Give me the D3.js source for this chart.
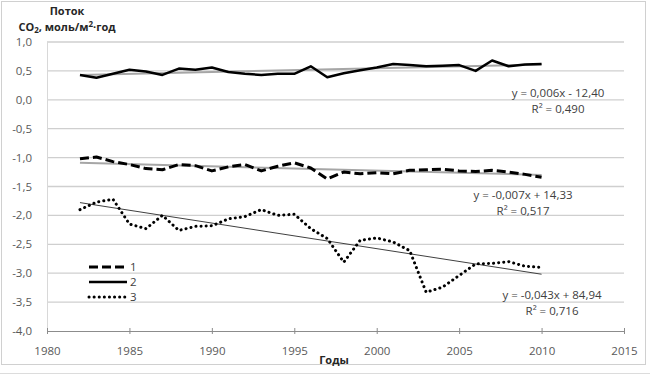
<!DOCTYPE html>
<html>
<head>
<meta charset="utf-8">
<script src="https://cdn.jsdelivr.net/npm/d3@7"></script>
<style>
  body { margin: 0; background: #fff; }
  svg text { font-family: "Open Sans", "Noto Sans", sans-serif; }
</style>
</head>
<body>
<div id="chart"></div>
<script>
// data
const years = [1982, 1983, 1984, 1985, 1986, 1987, 1988, 1989, 1990, 1991, 1992, 1993, 1994, 1995, 1996,
               1997, 1998, 1999, 2000, 2001, 2002, 2003, 2004, 2005, 2006, 2007, 2008, 2009, 2010];
const series1 = [-1.02, -0.99, -1.07, -1.12, -1.19, -1.21, -1.12, -1.14, -1.23, -1.16, -1.12, -1.23, -1.15, -1.09, -1.18,
                 -1.37, -1.25, -1.28, -1.26, -1.28, -1.22, -1.21, -1.20, -1.23, -1.24, -1.22, -1.25, -1.29, -1.34];
const series2 = [0.43, 0.38, 0.45, 0.52, 0.49, 0.43, 0.54, 0.52, 0.56, 0.48, 0.45, 0.43, 0.45, 0.45, 0.58,
                 0.39, 0.46, 0.51, 0.56, 0.62, 0.60, 0.58, 0.59, 0.60, 0.50, 0.68, 0.58, 0.61, 0.62];
const series3 = [-1.90, -1.77, -1.72, -2.15, -2.23, -2.00, -2.26, -2.19, -2.18, -2.06, -2.02, -1.90, -2.00, -1.98, -2.23,
                 -2.40, -2.81, -2.43, -2.39, -2.46, -2.61, -3.33, -3.24, -3.04, -2.84, -2.83, -2.80, -2.88, -2.90];
const legendLabels = ["1", "2", "3"];
const trendLabels = [
  ["y = -0,007x + 14,33", "R\u00b2 = 0,517"],
  ["y = 0,006x - 12,40", "R\u00b2 = 0,490"],
  ["y = -0,043x + 84,94", "R\u00b2 = 0,716"]
];
const xTicks = [1980, 1985, 1990, 1995, 2000, 2005, 2010, 2015];
const yTicks = [1, 0.5, 0, -0.5, -1, -1.5, -2, -2.5, -3, -3.5, -4];

const W = 650, H = 376;
const margin = { top: 42, right: 26, bottom: 45, left: 47 };
const width = W - margin.left - margin.right;
const height = H - margin.top - margin.bottom;

const svg = d3.select("#chart").append("svg")
    .attr("width", W).attr("height", H);

// outer frame
svg.append("rect")
    .attr("x", 1.5).attr("y", 1.5).attr("width", 644).attr("height", 363)
    .attr("fill", "none").attr("stroke", "#d0d0d0");
svg.append("line").attr("x1", 0).attr("x2", W).attr("y1", 373.5).attr("y2", 373.5)
    .attr("stroke", "#dcdcdc");

const g = svg.append("g").attr("transform", `translate(${margin.left},${margin.top})`);

const x = d3.scaleLinear().domain([1980, 2015]).range([0, width]);
const y = d3.scaleLinear().domain([-4, 1]).range([height, 0]);

// grid
g.selectAll(".grid").data(yTicks.filter(d => d !== -4)).join("line")
    .attr("class", "grid")
    .attr("x1", 0).attr("x2", width)
    .attr("y1", d => y(d)).attr("y2", d => y(d))
    .attr("stroke", "#cfcfcf").attr("stroke-width", 1.3);

g.append("line").attr("x1", 0.5).attr("x2", 0.5).attr("y1", 0).attr("y2", height)
    .attr("stroke", "#d8d8d8");

// y labels
g.selectAll(".ylab").data(yTicks).join("text")
    .attr("class", "ylab")
    .attr("x", -15).attr("y", d => y(d)).attr("dy", "0.35em")
    .attr("text-anchor", "end")
    .attr("font-size", 11.5).attr("fill", "#595959")
    .text(d => d3.format(".1f")(d).replace("−", "-").replace(".", ","));

// x axis
const xAxis = g.append("g").attr("transform", `translate(0,${height})`)
    .call(d3.axisBottom(x).tickValues(xTicks).tickFormat(d3.format("d")).tickSizeInner(3).tickSizeOuter(0));
xAxis.select(".domain").attr("stroke", "#8c8c8c");
xAxis.selectAll(".tick line").attr("stroke", "#8c8c8c").attr("y1", -3);
xAxis.selectAll(".tick text").attr("font-size", 11.5).attr("fill", "#595959").attr("dy", "1.55em")
    .attr("font-family", "'Open Sans', sans-serif");

// trend lines
function fit(xs, ys) {
  const mx = d3.mean(xs), my = d3.mean(ys);
  const b = d3.sum(xs, (v, i) => (v - mx) * (ys[i] - my)) / d3.sum(xs, v => (v - mx) ** 2);
  return { b, a: my - b * mx };
}
const trendStyle = [
  { stroke: "#a6a6a6", w: 2 },
  { stroke: "#a6a6a6", w: 2 },
  { stroke: "#404040", w: 1 }
];
const allSeries = [series1, series2, series3];
allSeries.forEach((s, i) => {
  const f = fit(years, s);
  const ends = [years[0], years[years.length - 1]];
  g.append("line")
      .attr("x1", x(ends[0])).attr("y1", y(f.a + f.b * ends[0]))
      .attr("x2", x(ends[1])).attr("y2", y(f.a + f.b * ends[1]))
      .attr("stroke", trendStyle[i].stroke).attr("stroke-width", trendStyle[i].w);
});

// series lines
const lineStyle = [
  { dash: "9,4", w: 3, cap: "butt" },
  { dash: null, w: 2.5, cap: "butt" },
  { dash: "0.1,5", w: 3, cap: "round" }
];
const line = d3.line().x((d, i) => x(years[i])).y(d => y(d));
allSeries.forEach((s, i) => {
  g.append("path").datum(s)
      .attr("d", line)
      .attr("fill", "none").attr("stroke", "#000")
      .attr("stroke-width", lineStyle[i].w)
      .attr("stroke-dasharray", lineStyle[i].dash)
      .attr("stroke-linecap", lineStyle[i].cap)
      .attr("stroke-linejoin", "round");
});

// trend equations
const trendPos = [[523, 195], [558, 93], [552, 295]];
trendLabels.forEach((lbl, i) => {
  const t = svg.append("text")
      .attr("text-anchor", "middle").attr("font-size", 11.5).attr("fill", "#404040");
  lbl.forEach((s, j) => {
    t.append("tspan").attr("x", trendPos[i][0]).attr("y", trendPos[i][1] + j * 15.5 + 4).text(s);
  });
});

// legend
const leg = svg.append("g").attr("transform", "translate(89,267)");
legendLabels.forEach((l, i) => {
  const row = leg.append("g").attr("transform", `translate(0,${i * 15})`);
  row.append("line").attr("x1", 0).attr("x2", 38).attr("y1", 0).attr("y2", 0)
      .attr("stroke", "#000").attr("stroke-width", lineStyle[i].w)
      .attr("stroke-dasharray", lineStyle[i].dash)
      .attr("stroke-linecap", lineStyle[i].cap);
  row.append("text").attr("x", 41).attr("y", 0).attr("dy", "0.38em")
      .attr("font-size", 11.5).attr("fill", "#404040").text(l);
});

// axis titles
const yt = svg.append("text").attr("text-anchor", "middle").attr("font-size", 11)
    .attr("font-weight", "bold").attr("fill", "#262626");
yt.append("tspan").attr("x", 67).attr("y", 15).text("Поток");
const yt2 = yt.append("tspan").attr("x", 67).attr("y", 31);
yt2.append("tspan").text("CO");
yt2.append("tspan").attr("font-size", 8).attr("dy", 2).text("2");
yt2.append("tspan").attr("dy", -2).text(", моль/м");
yt2.append("tspan").attr("font-size", 8).attr("dy", -4).text("2");
yt2.append("tspan").attr("dy", 4).text("·год");

svg.append("text").attr("x", 334).attr("y", 364).attr("text-anchor", "middle")
    .attr("font-size", 11).attr("font-weight", "bold").attr("fill", "#262626").text("Годы");
</script>
</body>
</html>
